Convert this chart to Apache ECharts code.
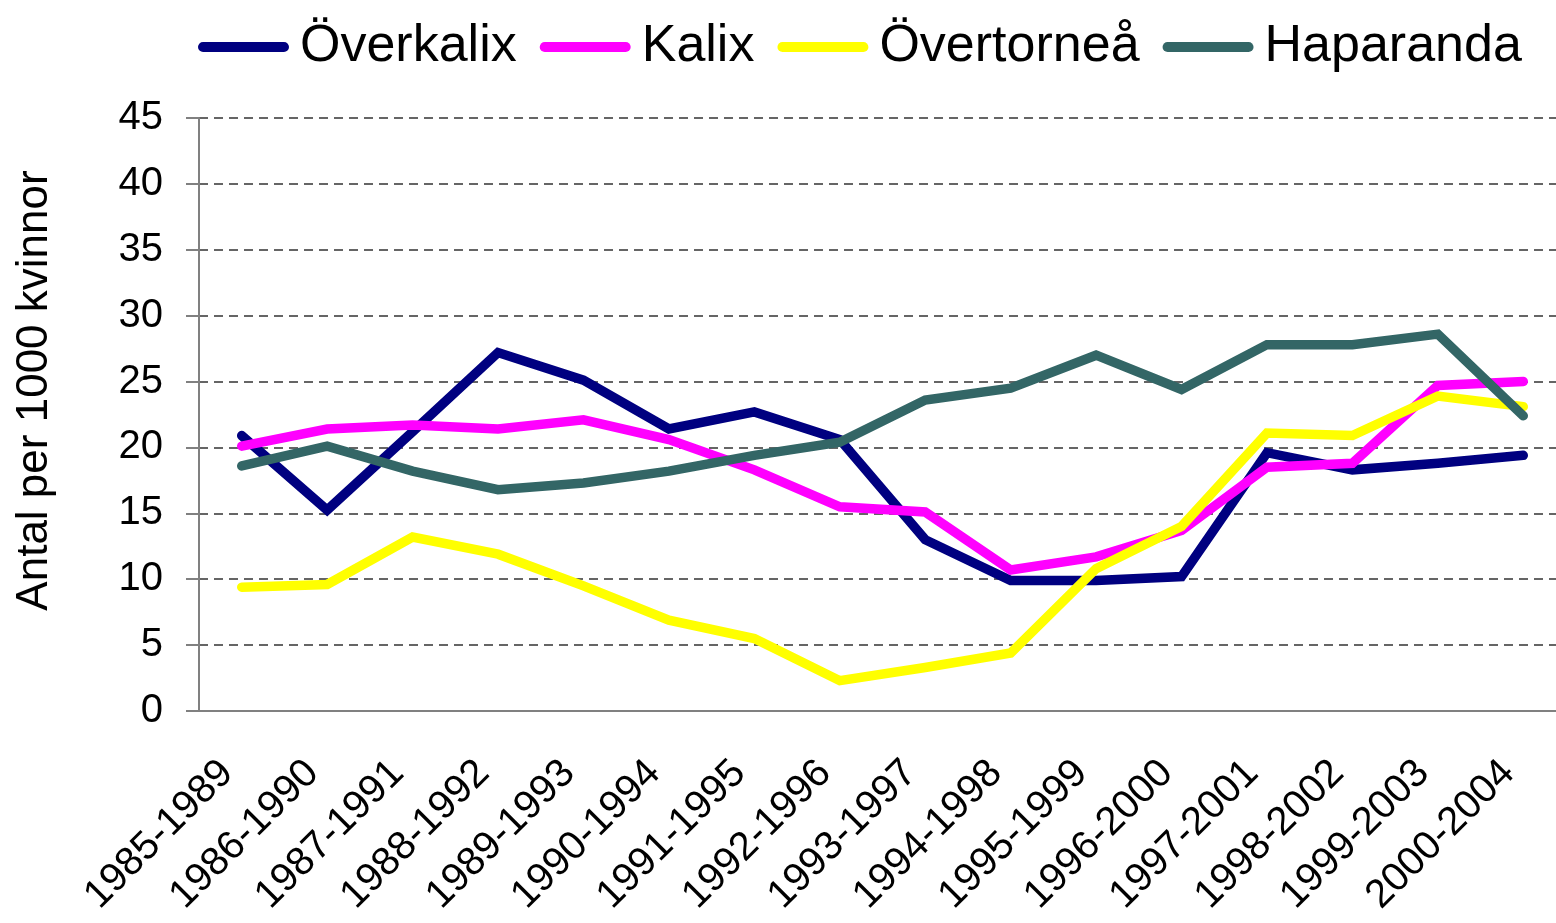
<!DOCTYPE html>
<html>
<head>
<meta charset="utf-8">
<script src="https://cdn.jsdelivr.net/npm/echarts@6/dist/echarts.min.js"></script>
<style>html,body{margin:0;padding:0;background:#fff;}#c{width:1556px;height:923px;}</style>
</head>
<body>
<div id="c"></div>
<script>
const categories = ['1985-1989','1986-1990','1987-1991','1988-1992','1989-1993','1990-1994','1991-1995','1992-1996','1993-1997','1994-1998','1995-1999','1996-2000','1997-2001','1998-2002','1999-2003','2000-2004'];
const overkalix  = [20.9, 15.25, 21.2, 27.2, 25.1, 21.4, 22.7, 20.6, 13.0, 9.9, 9.9, 10.2, 19.6, 18.3, 18.8, 19.4];
const kalix      = [20.1, 21.4, 21.7, 21.4, 22.1, 20.6, 18.3, 15.5, 15.1, 10.7, 11.7, 13.7, 18.5, 18.8, 24.7, 25.0];
const overtornea = [9.4, 9.6, 13.2, 11.9, 9.5, 6.9, 5.5, 2.3, 3.3, 4.4, 10.8, 14.0, 21.1, 20.9, 23.9, 23.1];
const haparanda  = [18.6, 20.1, 18.2, 16.8, 17.3, 18.2, 19.4, 20.4, 23.6, 24.5, 27.0, 24.4, 27.8, 27.8, 28.6, 22.4];
const seriesNames = ['Överkalix','Kalix','Övertorneå','Haparanda'];
const seriesColors = ['#000080','#FF00FF','#FFFF00','#336666'];
const yTitle = 'Antal per 1000 kvinnor';

const FONT = '"Liberation Sans", Arial, sans-serif';
const chart = echarts.init(document.getElementById('c'), null, {renderer:'canvas'});
const values = [overkalix, kalix, overtornea, haparanda];
const icon = 'path://M5,0 L85,0 A5,5 0 0 1 85,10 L5,10 A5,5 0 0 1 5,0 Z';
chart.setOption({
  backgroundColor:'#fff',
  animation:false,
  legend:{
    left:193, top:16,
    itemWidth:91, itemHeight:11, itemGap:23,
    icon: icon,
    textStyle:{fontFamily:FONT, fontSize:52, color:'#000', padding:[0,0,0,6]},
    data: seriesNames
  },
  grid:{left:199, top:118, bottom:212, right:-10, outerBoundsMode:'none', containLabel:false},
  xAxis:{
    type:'category', data:categories, boundaryGap:true,
    axisLine:{lineStyle:{color:'#808080', width:2}},
    axisTick:{length:13, lineStyle:{color:'#808080', width:2}},
    axisLabel:{rotate:45, fontFamily:FONT, fontSize:40, color:'#000', margin:41, padding:[0,21,0,0], interval:0}
  },
  yAxis:{
    type:'value', min:0, max:45, interval:5,
    name:yTitle, nameLocation:'middle', nameGap:142,
    nameTextStyle:{fontFamily:FONT, fontSize:44, color:'#000', padding:[0,0,0,48]},
    axisLine:{show:true, lineStyle:{color:'#808080', width:2}},
    axisTick:{show:true, length:13, lineStyle:{color:'#808080', width:2}},
    axisLabel:{fontFamily:FONT, fontSize:40, color:'#000', margin:36},
    splitLine:{show:true, lineStyle:{color:'#333', width:1.5, type:[9,6]}}
  },
  series: seriesNames.map((n,i)=>({
    name:n, type:'line', data:values[i], symbol:'none',
    lineStyle:{color:seriesColors[i], width:9.5, cap:'round', join:'miter'},
    itemStyle:{color:seriesColors[i]}
  }))
});
</script>
</body>
</html>
